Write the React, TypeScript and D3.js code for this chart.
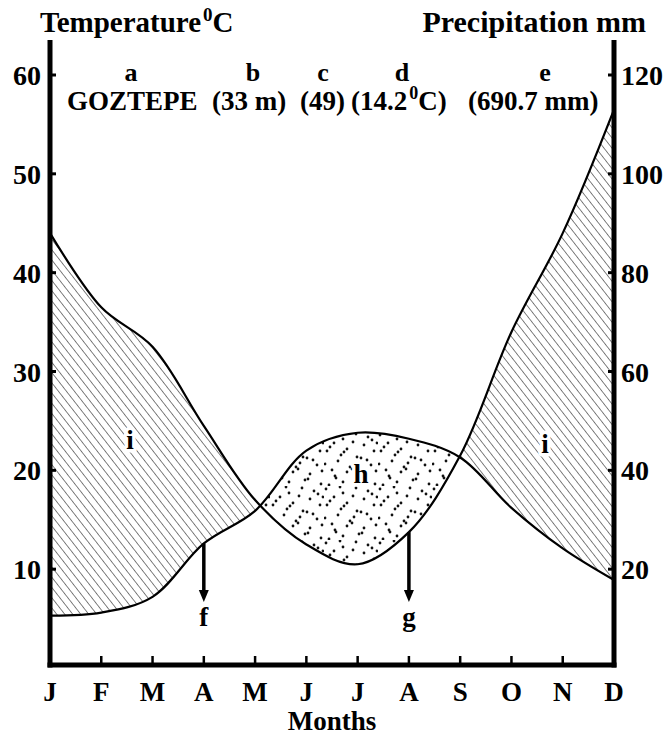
import React from "react";
import * as d3 from "d3";

// monthly climate values (Goztepe)
const months = ["J", "F", "M", "A", "M", "J", "J", "A", "S", "O", "N", "D"];
const temperature = [5.3, 5.6, 7.2, 12.6, 15.9, 22, 23.8, 23.2, 21.3, 16.2, 12.1, 8.9];
const precipitation = [88, 73, 65, 49, 34, 25, 21, 27.5, 43, 68, 88, 113];
const tempTicks = [10, 20, 30, 40, 50, 60];
const precTicks = [20, 40, 60, 80, 100, 120];

const W = 669;
const H = 736;
const LEFT = 50;
const RIGHT = 614;
const TOP = 40;
const BASE = 665;
const FONT = "'Liberation Serif', 'Times New Roman', serif";

// jitter of the stipple dots inside a 6x6 cell tile (texture only, not data)
const CELL = 9;
const dotJitter = [
  [[2, 3], [7, 1], [1, 7], [5, 2], [8, 5], [3, 8]],
  [[6, 6], [1, 2], [5, 8], [2, 1], [4, 4], [8, 2]],
  [[3, 1], [8, 5], [2, 2], [6, 7], [1, 8], [5, 1]],
  [[1, 5], [5, 2], [8, 8], [3, 4], [7, 1], [2, 6]],
  [[8, 2], [2, 8], [5, 4], [1, 1], [4, 6], [7, 3]],
  [[5, 8], [3, 1], [1, 5], [8, 3], [2, 2], [6, 7]],
];

const App: React.FC = () => {
  const x = d3.scaleLinear().domain([0, 11]).range([LEFT, RIGHT]);
  const yT = d3.scaleLinear().domain([0, 60]).range([668, 75]);
  const yP = d3.scaleLinear().domain([0, 120]).range([668, 75]);
  const curve = d3.curveCatmullRom.alpha(0.5);
  const idx = d3.range(12);

  const tempLine = d3.line<number>().x((i) => x(i)).y((i) => yT(temperature[i])).curve(curve);
  const precLine = d3.line<number>().x((i) => x(i)).y((i) => yP(precipitation[i])).curve(curve);
  const belowTemp = d3.area<number>().x((i) => x(i)).y0(BASE).y1((i) => yT(temperature[i])).curve(curve);
  const aboveTemp = d3.area<number>().x((i) => x(i)).y0(0).y1((i) => yT(temperature[i])).curve(curve);
  const belowPrec = d3.area<number>().x((i) => x(i)).y0(BASE).y1((i) => yP(precipitation[i])).curve(curve);
  const abovePrec = d3.area<number>().x((i) => x(i)).y0(0).y1((i) => yP(precipitation[i])).curve(curve);

  const fArrowTop = yT(temperature[3]);
  const gArrowTop = yP(precipitation[7]);
  const arrowTip = 602;

  const arrow = (ax: number, top: number) => (
    <g>
      <line x1={ax} x2={ax} y1={top} y2={arrowTip - 10} stroke="#000" strokeWidth={3.5} />
      <path d={`M${ax - 5},${arrowTip - 12} L${ax + 5},${arrowTip - 12} L${ax},${arrowTip} Z`} fill="#000" />
    </g>
  );

  const tile = CELL * dotJitter.length;

  return (
    <svg width={W} height={H} style={{ position: "absolute", left: 0, top: 0, background: "white" }}
      fontFamily={FONT} fontWeight="bold">
      <defs>
        <pattern id="hatch" width={6.3} height={10} patternUnits="userSpaceOnUse" patternTransform="rotate(-38)">
          <line x1={0} y1={0} x2={0} y2={10} stroke="#1a1a1a" strokeWidth={1.1} />
        </pattern>
        <pattern id="dots" width={tile} height={tile} patternUnits="userSpaceOnUse">
          {dotJitter.map((row, r) =>
            row.map(([jx, jy], c) => (
              <circle key={r + "-" + c} cx={c * CELL + jx} cy={r * CELL + jy} r={1.4} fill="#111" />
            ))
          )}
        </pattern>
        <clipPath id="clipAboveTemp">
          <path d={aboveTemp(idx) || ""} />
        </clipPath>
        <clipPath id="clipAbovePrec">
          <path d={abovePrec(idx) || ""} />
        </clipPath>
      </defs>

      {/* humid period (i) and arid period (h) */}
      <path d={belowPrec(idx) || ""} fill="url(#hatch)" clipPath="url(#clipAboveTemp)" />
      <path d={belowTemp(idx) || ""} fill="url(#dots)" clipPath="url(#clipAbovePrec)" />

      <path d={precLine(idx) || ""} fill="none" stroke="#000" strokeWidth={2.2} />
      <path d={tempLine(idx) || ""} fill="none" stroke="#000" strokeWidth={2.2} />

      {/* frame */}
      <line x1={LEFT} y1={TOP} x2={LEFT} y2={BASE + 2.5} stroke="#000" strokeWidth={5} />
      <line x1={RIGHT} y1={TOP} x2={RIGHT} y2={BASE + 2.5} stroke="#000" strokeWidth={5} />
      <line x1={LEFT - 2.5} y1={BASE} x2={RIGHT + 2.5} y2={BASE} stroke="#000" strokeWidth={5} />

      {tempTicks.map((t) => (
        <g key={"t" + t}>
          <line x1={LEFT} x2={LEFT + 6} y1={yT(t)} y2={yT(t)} stroke="#000" strokeWidth={3} />
          <text x={LEFT - 9} y={yT(t) + 10} textAnchor="end" fontSize={28}>{t}</text>
        </g>
      ))}
      {precTicks.map((p) => (
        <g key={"p" + p}>
          <line x1={RIGHT - 6} x2={RIGHT} y1={yP(p)} y2={yP(p)} stroke="#000" strokeWidth={3} />
          <text x={RIGHT + 7} y={yP(p) + 10} textAnchor="start" fontSize={28}>{p}</text>
        </g>
      ))}
      {idx.map((i) => (
        <g key={"m" + i}>
          {i > 0 && i < 11 && (
            <line x1={x(i)} x2={x(i)} y1={BASE} y2={BASE - 9} stroke="#000" strokeWidth={2.5} />
          )}
          <text x={x(i)} y={701} textAnchor="middle" fontSize={27}>{months[i]}</text>
        </g>
      ))}
      <text x={(LEFT + RIGHT) / 2} y={730} textAnchor="middle" fontSize={27}>Months</text>

      {/* titles */}
      <text x={40} y={32} fontSize={29}>
        Temperature<tspan fontSize={19} dy={-11} dx={2}>0</tspan><tspan dy={11}>C</tspan>
      </text>
      <text x={646} y={32} textAnchor="end" fontSize={30}>Precipitation mm</text>

      {/* station header */}
      <g fontSize={26} textAnchor="middle">
        <text x={131} y={81}>a</text>
        <text x={253} y={81}>b</text>
        <text x={323} y={81}>c</text>
        <text x={402} y={81}>d</text>
        <text x={545} y={81}>e</text>
      </g>
      <g fontSize={27}>
        <text x={67} y={110}>GOZTEPE</text>
        <text x={212} y={110}>(33 m)</text>
        <text x={300} y={110}>(49)</text>
        <text x={351} y={110}>
          (14.2<tspan fontSize={18} dy={-11} dx={2}>0</tspan><tspan dy={11}>C)</tspan>
        </text>
        <text x={468} y={110}>(690.7 mm)</text>
      </g>

      {/* arrows */}
      {arrow(x(3), fArrowTop)}
      {arrow(x(7), gArrowTop)}

      <g fontSize={27} textAnchor="middle">
        <text x={x(3)} y={626}>f</text>
        <text x={x(7)} y={626}>g</text>
      </g>
      <g fontSize={27} textAnchor="middle" stroke="#fff" strokeWidth={7} strokeLinejoin="round"
        style={{ paintOrder: "stroke" }}>
        <text x={130} y={449}>i</text>
        <text x={545} y={453}>i</text>
        <text x={361} y={483}>h</text>
      </g>
    </svg>
  );
};

export default App;
